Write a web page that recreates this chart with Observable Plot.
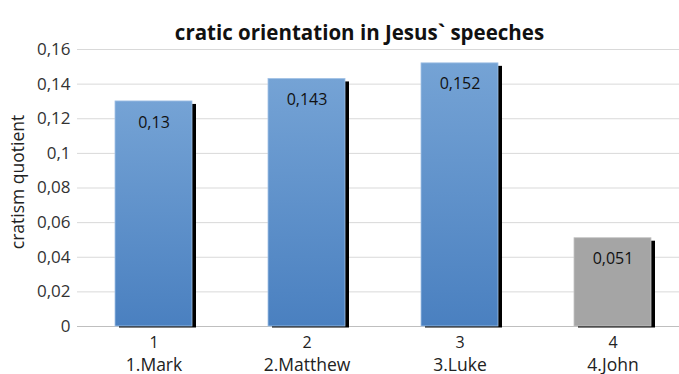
<!DOCTYPE html>
<html>
<head>
<meta charset="utf-8">
<script src="https://cdn.jsdelivr.net/npm/d3@7"></script>
<script src="https://cdn.jsdelivr.net/npm/@observablehq/plot@0.6"></script>
<style>
  html, body { margin: 0; padding: 0; background: #fff; }
</style>
</head>
<body>
<div id="chart"></div>
<script>
const title = "cratic orientation in Jesus` speeches";
const yLabel = "cratism quotient";
const categories = ["1.Mark", "2.Matthew", "3.Luke", "4.John"];
const numbers = ["1", "2", "3", "4"];
const values = [0.13, 0.143, 0.152, 0.051];
const yTicks = [0, 0.02, 0.04, 0.06, 0.08, 0.1, 0.12, 0.14, 0.16];

const data = categories.map((c, i) => ({cat: c, num: numbers[i], value: values[i], idx: i}));
const fmt = d => d === 0 ? "0" : String(d).replace(".", ",");

const svg = Plot.plot({
  width: 679,
  height: 374,
  marginLeft: 77,
  marginRight: 0,
  marginTop: 49,
  marginBottom: 48,
  style: {fontFamily: "'Open Sans', sans-serif", background: "#fff"},
  x: {domain: categories, range: [77, 689], paddingInner: 0.5, paddingOuter: 0.25, axis: null},
  y: {domain: [0, 0.16], axis: null},
  marks: [
    Plot.ruleY(yTicks, {stroke: "#d9d9d9", strokeWidth: 1}),
    Plot.ruleY([0], {stroke: "#bfbfbf", strokeWidth: 1}),
    Plot.barY(data, {x: "cat", y: "value", fill: "black", dx: 4, dy: 1.5, insetTop: 1.5}),
    Plot.barY(data, {filter: d => d.idx < 3, x: "cat", y: "value", fill: "url(#blueGrad)", stroke: "#a3c2e6", strokeWidth: 0.8}),
    Plot.barY(data, {filter: d => d.idx === 3, x: "cat", y: "value", fill: "#a5a5a5", stroke: "#c4c4c4", strokeWidth: 0.8}),
    Plot.axisY(yTicks, {tickSize: 0, tickPadding: 7, tickFormat: fmt, fontSize: 17, fill: "#333", label: null}),
    Plot.text([yLabel], {frameAnchor: "left", textAnchor: "middle", rotate: -90, dx: -59, dy: -6, fontSize: 17.5, fill: "#222"}),
    Plot.text(data, {x: "cat", y: "value", text: d => fmt(d.value), dy: 21, fontSize: 16, fill: "#111"}),
    Plot.text(data, {x: "cat", y: 0, text: "num", dy: 16, fontSize: 16, fill: "#222"}),
    Plot.text(data, {x: "cat", y: 0, text: "cat", dy: 38.5, fontSize: 17.5, fill: "#222"}),
    Plot.text([title], {frameAnchor: "top", dy: -24, dx: -19, fontSize: 20.5, fontWeight: "bold", fill: "#111"})
  ]
});

const defs = d3.select(svg).insert("defs", ":first-child");
const g = defs.append("linearGradient").attr("id", "blueGrad").attr("x1", 0).attr("y1", 0).attr("x2", 0).attr("y2", 1);
g.append("stop").attr("offset", "0%").attr("stop-color", "#75a3d5");
g.append("stop").attr("offset", "100%").attr("stop-color", "#4a80c0");

document.getElementById("chart").appendChild(svg);
</script>
</body>
</html>
